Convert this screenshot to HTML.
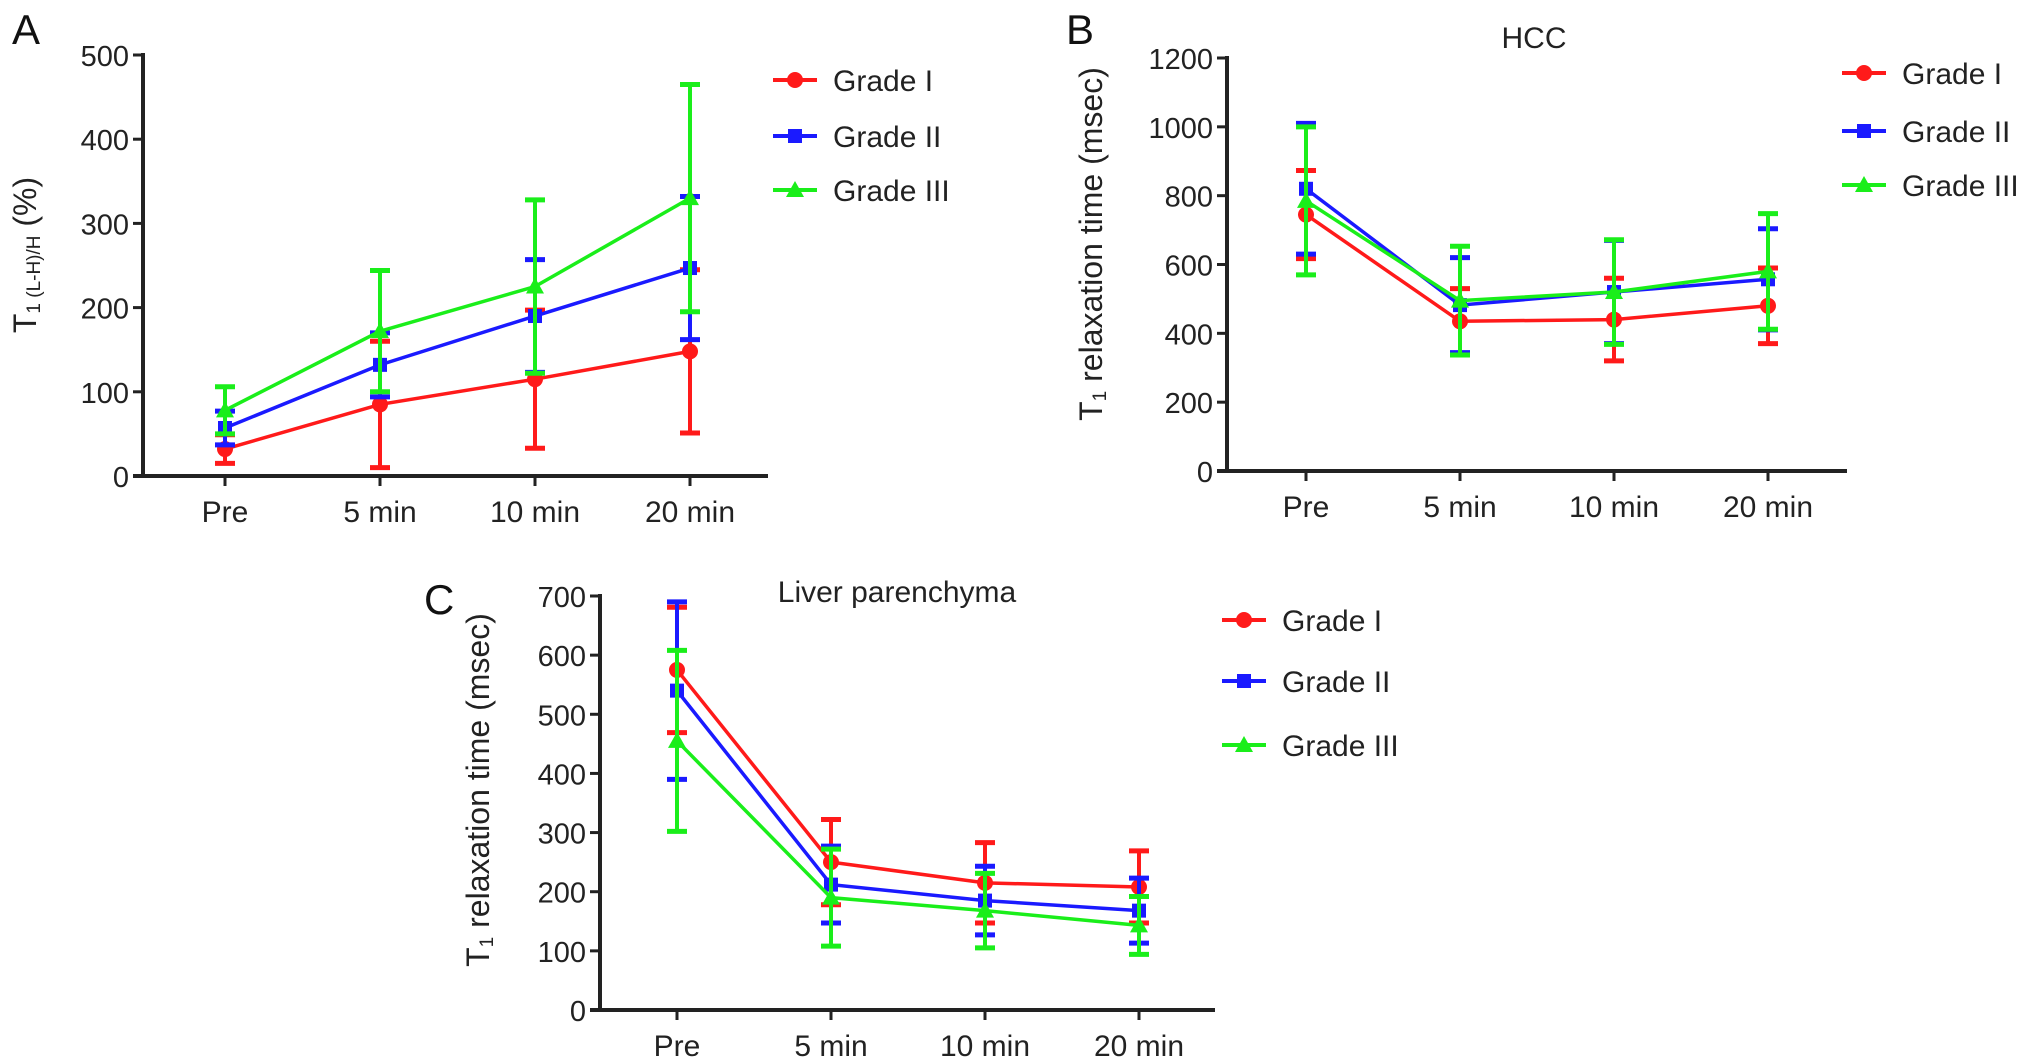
<!DOCTYPE html>
<html><head><meta charset="utf-8"><style>
body{margin:0;background:#fff;}
svg{display:block;font-family:"Liberation Sans",sans-serif;}
</style></head><body>
<svg id="fig" width="2032" height="1064" viewBox="0 0 2032 1064" xmlns="http://www.w3.org/2000/svg"></svg>
<script>
const categories = ["Pre","5 min","10 min","20 min"];
const seriesNames = ["Grade I","Grade II","Grade III"];
const colors = ["#ff1a1a","#1a1aff","#1aee1a"];
// Panel A
const aMean = [[32,85,115,148],[57,132,190,247],[78,172,225,330]];
const aErr  = [[17,75,82,97],[20,38,67,85],[28,72,103,135]];
const aTicks = [0,100,200,300,400,500];
// Panel B
const bMean = [[745,435,440,480],[820,482,520,557],[785,495,520,580]];
const bErr  = [[128,95,120,110],[190,138,150,147],[215,158,152,168]];
const bTicks = [0,200,400,600,800,1000,1200];
// Panel C
const cMean = [[575,250,215,208],[540,212,185,168],[455,190,168,143]];
const cErr  = [[106,72,68,61],[150,65,58,55],[153,82,63,49]];
const cTicks = [0,100,200,300,400,500,600,700];

const NS="http://www.w3.org/2000/svg";
const svg=document.getElementById('fig');
function mk(tag,attrs,parent){const e=document.createElementNS(NS,tag);for(const k in attrs)e.setAttribute(k,attrs[k]);(parent||svg).appendChild(e);return e;}

function marker(g,k,x,y){
  if(k===0) return mk('circle',{cx:x,cy:y,r:8,fill:colors[0]},g);
  if(k===1) return mk('rect',{x:x-7,y:y-7,width:14,height:14,fill:colors[1]},g);
  return mk('polygon',{points:`${x},${y-9} ${x+9},${y+7} ${x-9},${y+7}`,fill:colors[2]},g);
}

function panel(p){
  const g=mk('g',{});
  
  
  const ymax=p.ticks[p.ticks.length-1];
  const ys=v=>p.y0+(p.yTop-p.y0)*v/ymax;
  const xs=i=>p.cx[0]+i*(p.cx[1]-p.cx[0]);
  const ya=mk('line',{x1:p.ax,y1:p.yTop-2,x2:p.ax,y2:p.y0,stroke:'#222','stroke-width':4},g);
  
  const xa=mk('line',{x1:p.ax-10,y1:p.y0,x2:p.xEnd,y2:p.y0,stroke:'#222','stroke-width':4},g);
  
  p.ticks.forEach(t=>{
    const y=ys(t);
    mk('line',{x1:p.ax-10,y1:y,x2:p.ax,y2:y,stroke:'#222','stroke-width':3},g);
    const tx=mk('text',{x:p.ax-14,y:y+11,'font-size':29,'text-anchor':'end',fill:'#222'},g);
    tx.textContent=t;
    
  });
  categories.forEach((c,i)=>{
    const x=xs(i);
    mk('line',{x1:x,y1:p.y0,x2:x,y2:p.y0+10,stroke:'#222','stroke-width':3},g);
    const tx=mk('text',{x:x,y:p.y0+46,'font-size':30,'text-anchor':'middle',fill:'#222'},g);
    tx.textContent=c;
    
  });
  p.mean.forEach((row,k)=>{
    const sg=mk('g',{},g);
    
    
    const pts=row.map((v,i)=>xs(i)+','+ys(v)).join(' ');
    mk('polyline',{points:pts,fill:'none',stroke:colors[k],'stroke-width':3.5},sg);
    row.forEach((v,i)=>{
      const x=xs(i),e=p.err[k][i];
      const eb=mk('g',{},sg);
      
      mk('line',{x1:x,y1:ys(v+e),x2:x,y2:ys(v-e),stroke:colors[k],'stroke-width':4},eb);
      mk('line',{x1:x-10,y1:ys(v+e),x2:x+10,y2:ys(v+e),stroke:colors[k],'stroke-width':5},eb);
      mk('line',{x1:x-10,y1:ys(v-e),x2:x+10,y2:ys(v-e),stroke:colors[k],'stroke-width':5},eb);
      const m=marker(sg,k,x,ys(v));
      
    });
  });
  seriesNames.forEach((s,k)=>{
    const lg=mk('g',{},g);
    
    const y=p.legY[k];
    mk('line',{x1:p.legX,y1:y,x2:p.legX+44,y2:y,stroke:colors[k],'stroke-width':4},lg);
    marker(lg,k,p.legX+22,y);
    const t=mk('text',{x:p.legX+60,y:y+11,'font-size':30,fill:'#222'},lg);
    t.textContent=s;
  });
  const L=mk('text',{x:p.letter[0],y:p.letter[1],'font-size':42,fill:'#111'},g);
  L.textContent=p.letterText;
  
  if(p.title){
    const T=mk('text',{x:p.title[0],y:p.title[1],'font-size':30,'text-anchor':'middle',fill:'#222'},g);
    T.textContent=p.title[2];
    
  }
  const yt=mk('text',{x:0,y:0,'font-size':32,'text-anchor':'middle',fill:'#222',transform:`translate(${p.ytitle[0]},${p.ytitle[1]}) rotate(-90)`},g);
  
  yt.innerHTML=p.ytitleHTML;
}

panel({name:'panel-a',ax:143,xEnd:768,yTop:55,y0:476,cx:[225,380],ticks:aTicks,mean:aMean,err:aErr,
  legX:773,legY:[80,136,190],letter:[12,44],letterText:'A',title:null,
  ytitle:[36,255],ytitleHTML:'T<tspan font-size="19" dy="4">1 (L-H)/H</tspan><tspan dy="-4"> (%)</tspan>'});
panel({name:'panel-b',ax:1227,xEnd:1847,yTop:58,y0:471,cx:[1306,1460],ticks:bTicks,mean:bMean,err:bErr,
  legX:1842,legY:[73,131,185],letter:[1066,44],letterText:'B',title:[1534,48,'HCC'],
  ytitle:[1102,244],ytitleHTML:'T<tspan font-size="19" dy="4">1</tspan><tspan dy="-4"> relaxation time (msec)</tspan>'});
panel({name:'panel-c',ax:600,xEnd:1215,yTop:596,y0:1010,cx:[677,831],ticks:cTicks,mean:cMean,err:cErr,
  legX:1222,legY:[620,681,745],letter:[424,614],letterText:'C',title:[897,602,'Liver parenchyma'],
  ytitle:[489,790],ytitleHTML:'T<tspan font-size="19" dy="4">1</tspan><tspan dy="-4"> relaxation time (msec)</tspan>'});
</script>
</body></html>
